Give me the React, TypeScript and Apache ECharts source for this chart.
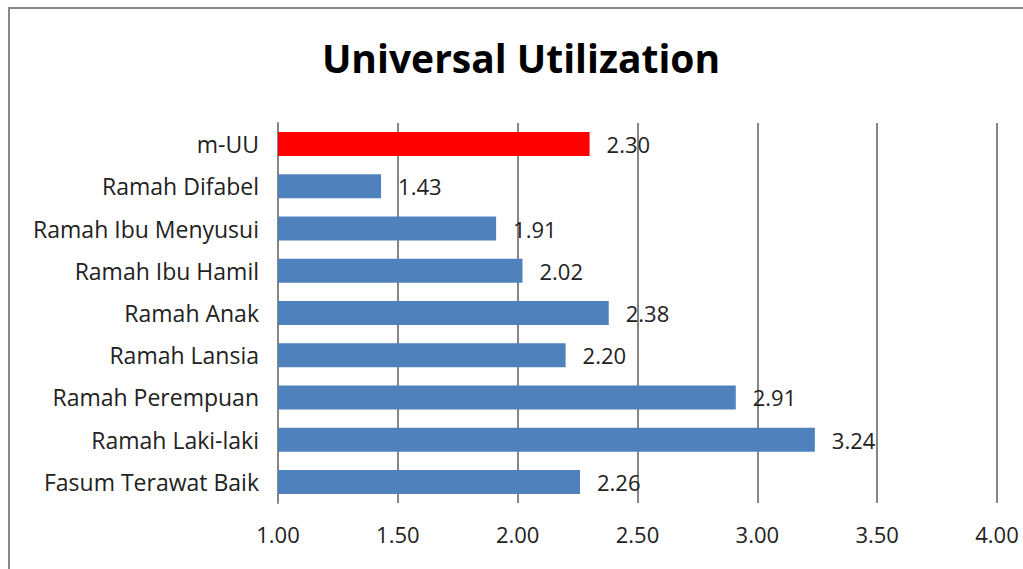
import React, { useEffect, useRef } from "react";
import * as echarts from "echarts";

const categories = [
  "m-UU",
  "Ramah Difabel",
  "Ramah Ibu Menyusui",
  "Ramah Ibu Hamil",
  "Ramah Anak",
  "Ramah Lansia",
  "Ramah Perempuan",
  "Ramah Laki-laki",
  "Fasum Terawat Baik",
];
const values = [2.3, 1.43, 1.91, 2.02, 2.38, 2.2, 2.91, 3.24, 2.26];
const highlightIndex = 0;

export default function App() {
  const ref = useRef<HTMLDivElement>(null);
  useEffect(() => {
    if (!ref.current) return;
    const chart = echarts.init(ref.current, null, { renderer: "svg" });
    const font = "'Open Sans', sans-serif";
    chart.setOption({
      animation: false,
      backgroundColor: "#fff",
      title: {
        text: "Universal Utilization",
        left: 516,
        top: 33,
        textAlign: "center",
        textStyle: { fontFamily: font, fontSize: 39, fontWeight: "bold", color: "#000" },
      },
      graphic: [
        {
          type: "rect",
          shape: { x: 9, y: 8, width: 1100, height: 700 },
          style: { fill: "none", stroke: "#888", lineWidth: 2 },
          silent: true,
        },
      ],
      grid: { left: 278, right: 26, top: 123, bottom: 66, containLabel: false },
      xAxis: {
        type: "value",
        min: 1,
        max: 4,
        interval: 0.5,
        axisLine: { show: false },
        axisTick: { show: false },
        splitLine: { show: true, lineStyle: { color: "#868686", width: 2 } },
        axisLabel: {
          margin: 20,
          fontFamily: font,
          fontSize: 22,
          color: "#222",
          formatter: (v: number) => v.toFixed(2),
        },
      },
      yAxis: {
        type: "category",
        data: categories,
        inverse: true,
        axisLine: { show: true, lineStyle: { color: "#868686", width: 2 } },
        axisTick: { show: false },
        axisLabel: { margin: 19, fontFamily: font, fontSize: 23, color: "#222" },
      },
      series: [
        {
          type: "bar",
          barWidth: 24,
          data: values.map((v, i) => ({
            value: v,
            itemStyle: { color: i === highlightIndex ? "#FF0000" : "#4F81BD" },
          })),
          label: {
            show: true,
            position: "right",
            distance: 17,
            fontFamily: font,
            fontSize: 22,
            color: "#222",
            formatter: (p: any) => Number(p.value).toFixed(2),
          },
        },
      ],
    });
    return () => chart.dispose();
  }, []);
  return (
    <div
      ref={ref}
      style={{ position: "fixed", left: 0, top: 0, width: 1023, height: 569 }}
    />
  );
}
